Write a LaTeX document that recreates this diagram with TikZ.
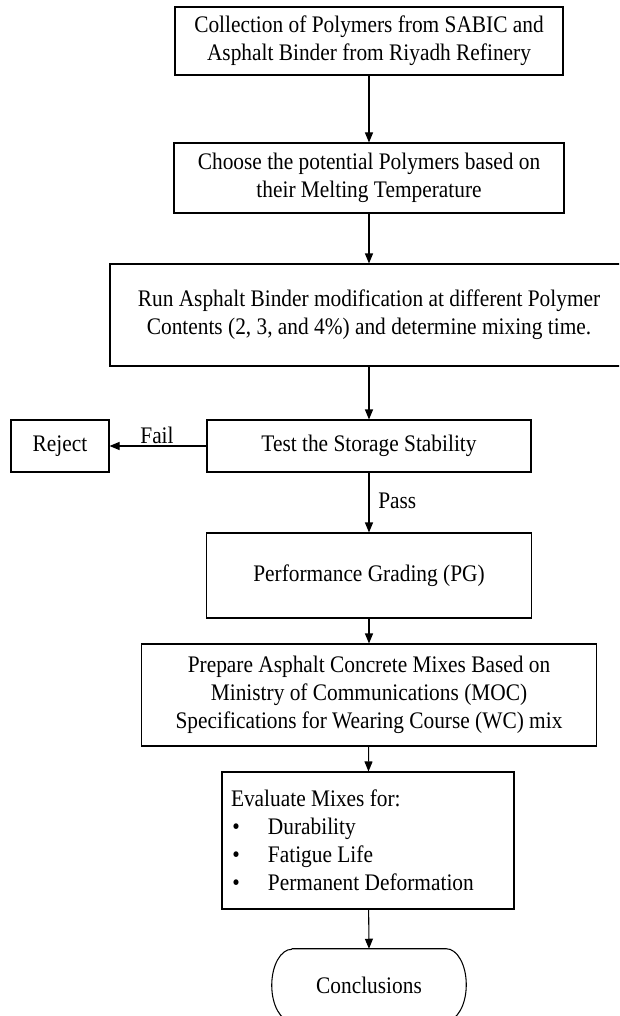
\documentclass[tikz,border=0pt]{standalone}
\usepackage{fontspec}
\setmainfont[FakeStretch=0.9]{Liberation Serif}
\usetikzlibrary{arrows.meta}
\begin{document}
\begin{tikzpicture}[x=0.75pt,y=-0.75pt,
  box/.style={draw, line width=0.8pt, inner sep=0pt, align=center,
    font=\fontsize{17.8}{21}\selectfont},
  arr/.style={draw, line width=0.8pt, -{Triangle[length=7.5pt,width=6pt]}},
  lbl/.style={font=\fontsize{17.8}{21}\selectfont, inner sep=0pt}]
\useasboundingbox (0,0) rectangle (619,1016);
\clip (0,0) rectangle (619,1016);

% process boxes, top to bottom
\node[box, minimum width=291pt, minimum height=51pt] (collect) at (369,41)
  {Collection of Polymers from SABIC and\\Asphalt Binder from Riyadh Refinery};
\node[box, minimum width=292.5pt, minimum height=52.5pt] (choose) at (369,178)
  {Choose the potential Polymers based on\\their Melting Temperature};
\node[box, minimum width=388.5pt, minimum height=76.5pt] (modify) at (369,315)
  {Run Asphalt Binder modification at different Polymer\\Contents (2, 3, and 4\%) and determine mixing time.};
\node[box, minimum width=243pt, minimum height=39pt] (storage) at (369,446)
  {Test the Storage Stability};
\node[box, minimum width=73.5pt, minimum height=39pt] (reject) at (60,446)
  {Reject};
\node[box, minimum width=243.75pt, minimum height=63.75pt] (grading) at (369,575.5)
  {Performance Grading (PG)};
\node[box, minimum width=341.25pt, minimum height=76.5pt] (mixes) at (369,695)
  {Prepare Asphalt Concrete Mixes Based on\\Ministry of Communications (MOC)\\Specifications for Wearing Course (WC) mix};
\node[box, align=flush left, inner xsep=6.75pt, text width=205.5pt,
      minimum height=102.75pt] (evaluate) at (368,840.5)
  {Evaluate Mixes for:\\
   \makebox[27.75pt][l]{\hspace{1pt}•}Durability\\
   \makebox[27.75pt][l]{\hspace{1pt}•}Fatigue Life\\
   \makebox[27.75pt][l]{\hspace{1pt}•}Permanent Deformation};

% terminal: rounded end shape
\node[lbl, minimum width=145.5pt, minimum height=54pt] (concl) at (369,985)
  {Conclusions};
\draw[line width=0.8pt]
  ([xshift=15pt]concl.north west) -- ([xshift=-15pt]concl.north east)
  arc[start angle=90, end angle=-90, x radius=15pt, y radius=27pt]
  -- ([xshift=15pt]concl.south west)
  arc[start angle=270, end angle=90, x radius=15pt, y radius=27pt];

% connectors
\draw[arr] (collect) -- (choose);
\draw[arr] (choose) -- (modify);
\draw[arr] (modify) -- (storage);
\draw[arr] (storage) -- (reject);
\draw[arr] (storage) -- (grading);
\draw[arr] (grading) -- (mixes);
\draw[arr] (mixes) -- (evaluate);
\draw[arr] (evaluate) -- (concl.north);

% branch labels
\node[lbl, anchor=base] (fail) at (157,443) {Fail};
\node[lbl, anchor=base west] (pass) at (378,508) {Pass};
\end{tikzpicture}
\end{document}
